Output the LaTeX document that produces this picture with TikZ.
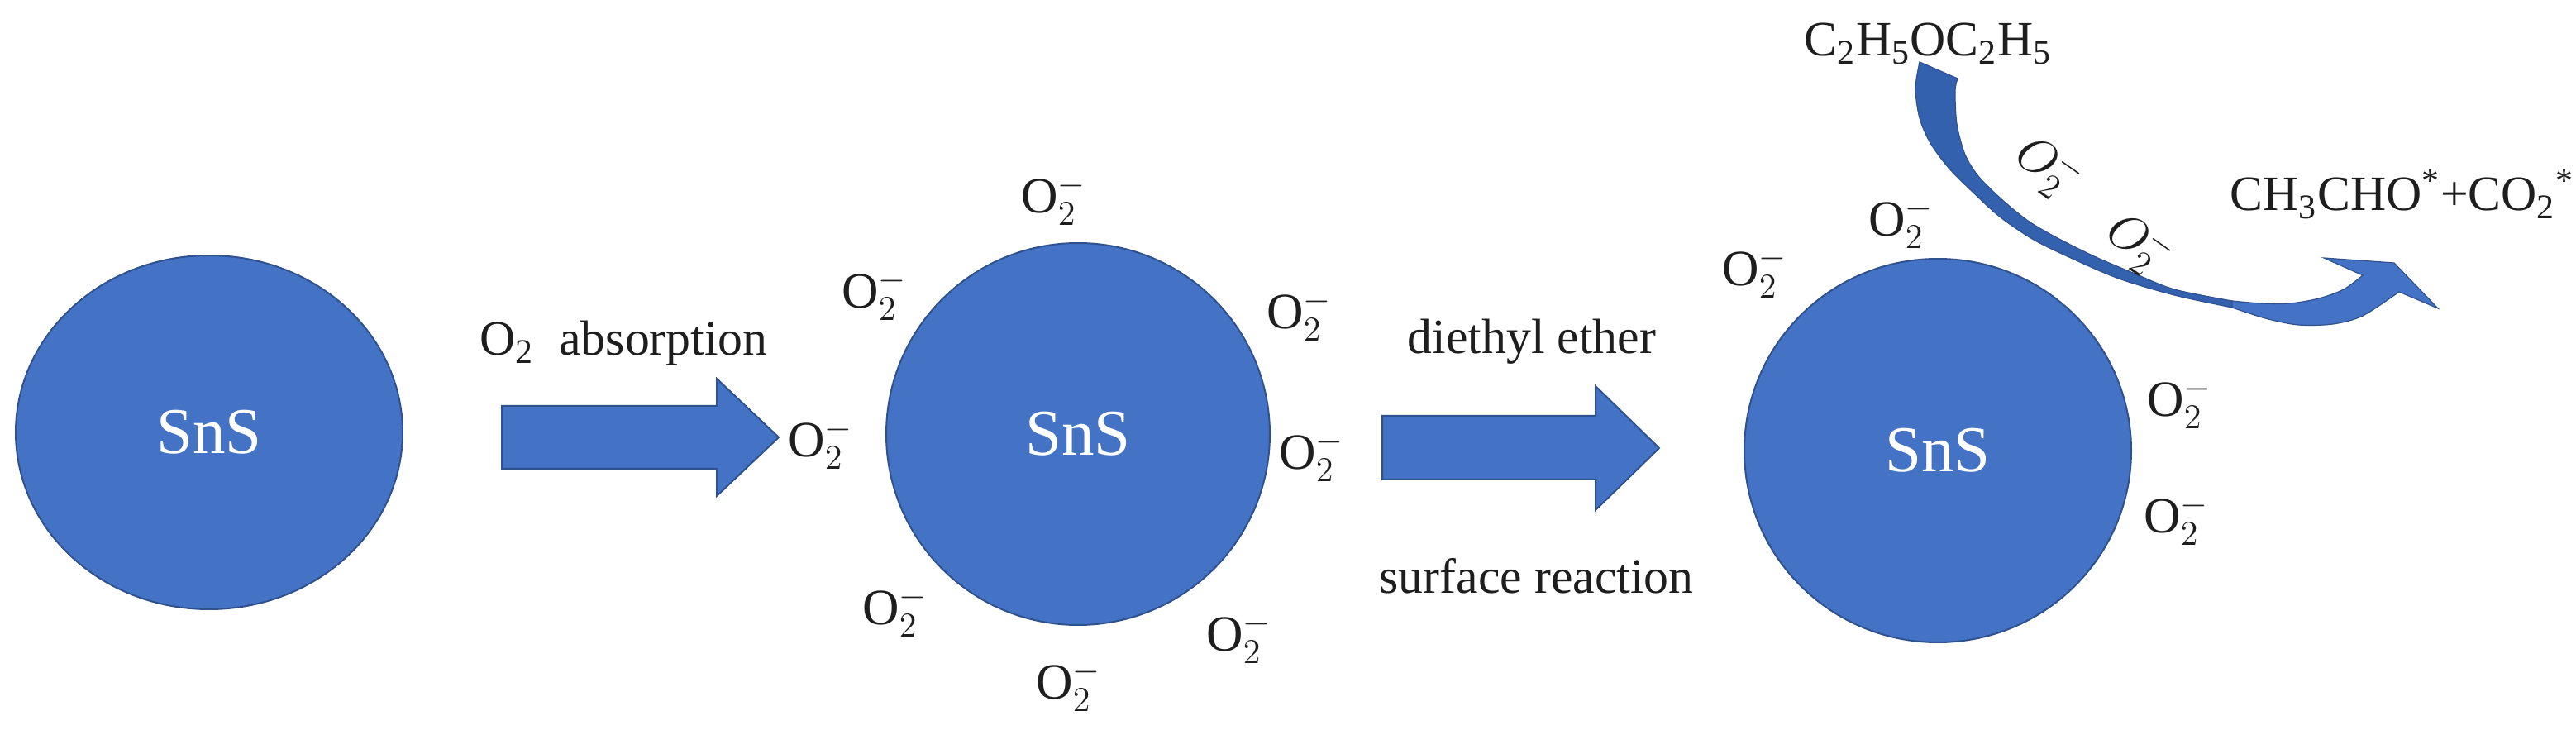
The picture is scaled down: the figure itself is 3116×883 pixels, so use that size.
\documentclass[tikz,border=0pt]{standalone}
\usepackage{fontspec}
\setmainfont{Liberation Serif}
\usetikzlibrary{shapes.geometric}
\definecolor{snsblue}{HTML}{4472C4}
\definecolor{snsedge}{HTML}{2F528F}
\definecolor{curvedark}{HTML}{3461AE}
\definecolor{txtgray}{HTML}{1E1E1E}
\begin{document}
\begin{tikzpicture}[x=0.1mm,y=-0.1mm,
  particle/.style={ellipse, fill=snsblue, draw=snsedge, line width=0.2mm, text=white,
    font=\fontsize{22.5}{26}\selectfont, inner sep=0pt},
  blockarrow/.style={fill=snsblue, draw=snsedge, line width=0.2mm},
  lbl/.style={inner sep=0pt, text=txtgray, font=\fontsize{17}{20}\selectfont},
  ion/.style={inner sep=0pt, text=txtgray, font=\fontsize{17.5}{20}\selectfont}]
\fill[white] (0,0) rectangle (3116,883);
\useasboundingbox (0,0) rectangle (3116,883);

% particles
\node[particle, minimum width=46.8mm, minimum height=42.8mm] (p1) at (253,523) {SnS};
\node[particle, minimum width=46.4mm, minimum height=46.2mm] (p2) at (1304,525) {SnS};
\node[particle, minimum width=46.8mm, minimum height=46.4mm] (p3) at (2344,545) {SnS};

% block arrows
\filldraw[blockarrow] (607,491) -- (867,491) -- (867,458) -- (942,529) -- (867,600) -- (867,567) -- (607,567) -- cycle;
\filldraw[blockarrow] (1672,503) -- (1930,503) -- (1930,467) -- (2007,542) -- (1930,617) -- (1930,580) -- (1672,580) -- cycle;

% step labels
\node[lbl, anchor=base west] (t1) at (580,430) {O\textsubscript{2}\ \ absorption};
\node[lbl, anchor=base west] (t2) at (1702,428) {diethyl ether};
\node[lbl, anchor=base west] (t3) at (1668,718) {surface reaction};
\node[lbl, anchor=base east] (t4) at (2483,68) {C\textsubscript{2}H\textsubscript{5}OC\textsubscript{2}H\textsubscript{5}};
\node[lbl, anchor=base west] (t5) at (2697,255) {CH\textsubscript{3}CHO\textsuperscript{*}+CO\textsubscript{2}\textsuperscript{*}};

% ions around particle 2
\node[ion] (a1) at (1275,242) {$\mathrm{O}_2^-$};
\node[ion] (a2) at (1058,357) {$\mathrm{O}_2^-$};
\node[ion] (a3) at (993,537) {$\mathrm{O}_2^-$};
\node[ion] (a4) at (1572,382) {$\mathrm{O}_2^-$};
\node[ion] (a5) at (1587,552) {$\mathrm{O}_2^-$};
\node[ion] (a6) at (1499,772) {$\mathrm{O}_2^-$};
\node[ion] (a7) at (1293,830) {$\mathrm{O}_2^-$};
\node[ion] (a8) at (1083,740) {$\mathrm{O}_2^-$};

% ions around particle 3
\node[ion] (b1) at (2123,330) {$\mathrm{O}_2^-$};
\node[ion] (b2) at (2300,270) {$\mathrm{O}_2^-$};
\node[ion] (b3) at (2637,488) {$\mathrm{O}_2^-$};
\node[ion] (b4) at (2633,629) {$\mathrm{O}_2^-$};

% curved reaction arrow
\filldraw[fill=curvedark, draw=snsedge, line width=0.12mm]
  plot[smooth, tension=0.5] coordinates {(2322,75) (2317,107) (2322,143) (2335,173) (2357,203) (2387,233) (2420,263) (2460,290) (2507,313) (2563,337) (2630,357) (2700,372)}
  -- plot[smooth, tension=0.5] coordinates {(2700,364) (2630,350) (2580,330) (2533,310) (2487,287) (2453,267) (2420,240) (2393,213) (2377,187) (2367,150) (2365,110) (2368,95)}
  -- cycle;
\filldraw[fill=snsblue, draw=snsedge, line width=0.12mm]
  plot[smooth, tension=0.5] coordinates {(2700,372) (2740,385) (2780,393) (2822,392) (2858,382) (2902,353)}
  -- (2949,373) -- (2896,318) -- (2811,312)
  -- plot[smooth, tension=0.5] coordinates {(2858,333) (2835,350) (2805,361) (2770,367) (2735,367) (2700,364)}
  -- cycle;

\node[ion, rotate=-35] (c1) at (2477,204) {$O_2^-$};
\node[ion, rotate=-35] (c2) at (2587,297) {$O_2^-$};
\end{tikzpicture}
\end{document}
